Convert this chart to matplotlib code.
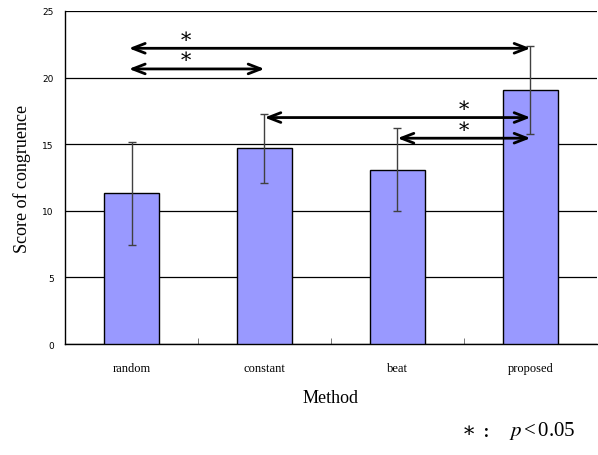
import matplotlib
matplotlib.use("Agg")
from matplotlib import pyplot as plt

plt.rcParams["mathtext.fontset"] = "stix"

# data
methods = ["random", "constant", "beat", "proposed"]
scores = [11.3, 14.7, 13.1, 19.1]
errors = [3.85, 2.6, 3.1, 3.3]

# significance arrows: start, end, height
arrow_from = [-0.02, -0.02, 1.0, 2.0]
arrow_to = [3.0, 1.0, 3.0, 3.0]
arrow_y = [22.2, 20.65, 17.0, 15.45]
star_x = [0.41, 0.41, 2.5, 2.5]

fig = plt.figure(figsize=(5.98, 4.56), dpi=100)
ax = fig.add_axes([0.1087, 0.2434, 0.8896, 0.7303])

x = range(len(methods))
ax.bar(x, scores, width=0.41, color="#9999ff", edgecolor="black", linewidth=1.0,
       zorder=3)
ax.errorbar(x, scores, yerr=errors, fmt="none", ecolor="#404040", elinewidth=1.0,
            capsize=3, capthick=1.0, zorder=4)

ax.set_xlim(-0.5, 3.5)
ax.set_ylim(0, 25)
ax.set_yticks([0, 5, 10, 15, 20, 25])
ax.yaxis.grid(True, color="black", linewidth=0.9, zorder=0)
ax.set_axisbelow(True)
ax.set_xticks(list(x))
ax.set_xticklabels(methods, family="Liberation Serif", fontsize=9)
ax.set_xticks([0.5, 1.5, 2.5], minor=True)
ax.tick_params(axis="x", which="major", length=0, pad=13)
ax.tick_params(axis="x", which="minor", direction="in", length=4, color="#606060")
ax.tick_params(axis="y", direction="out", length=0, labelsize=6.5, pad=8)

for side in ["top", "right"]:
    ax.spines[side].set_visible(False)
ax.spines["left"].set_linewidth(1.0)
ax.spines["bottom"].set_linewidth(1.0)

ax.set_ylabel("Score of congruence", family="Liberation Serif", fontsize=13, labelpad=8)
ax.set_xlabel("Method", family="Liberation Serif", fontsize=13, labelpad=11)

for a, b, h, sx in zip(arrow_from, arrow_to, arrow_y, star_x):
    ax.annotate("", xy=(b, h), xytext=(a, h),
                arrowprops=dict(arrowstyle="<->,head_length=0.9,head_width=0.35",
                                color="black", lw=2.0, shrinkA=0, shrinkB=0),
                zorder=5)
    ax.text(sx, h + 0.2, "\u2217", ha="center", va="bottom", fontsize=15,
            family="DejaVu Serif", zorder=5)

# footnote
fig.text(0.772, 0.032, "\u2217 :", ha="left", va="bottom",
         fontsize=15, family="DejaVu Serif")
fig.text(0.962, 0.03, r"$p\,$<$\,$0.05", ha="right", va="bottom",
         fontsize=15, family="Liberation Serif")

fig.savefig("out.png", dpi=100)
